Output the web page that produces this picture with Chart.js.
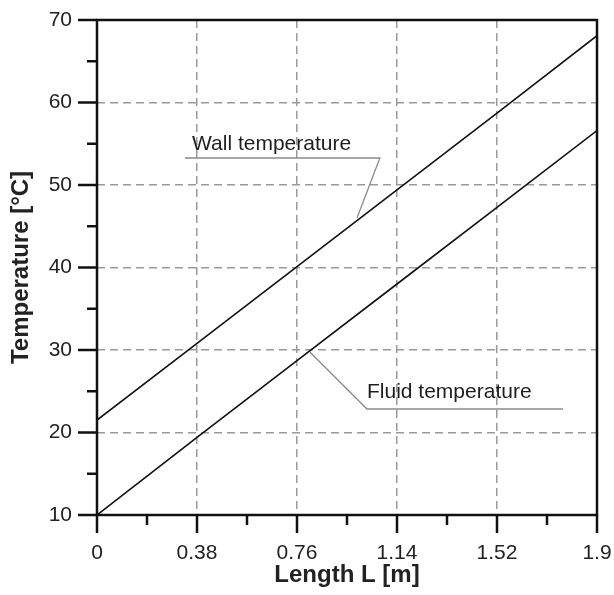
<!DOCTYPE html>
<html><head><meta charset="utf-8">
<script src="https://cdn.jsdelivr.net/npm/chart.js@4.4.1/dist/chart.umd.min.js"></script>
<style>html,body{margin:0;padding:0;background:#fff}#wrap{width:614px;height:595px}</style>
</head><body><div id="wrap"><canvas id="c" width="614" height="595"></canvas></div>
<script>
const lengthL = [0, 0.38, 0.76, 1.14, 1.52, 1.9];
const wallTemp = [21.5, 30.8, 40.1, 49.4, 58.7, 68.1];
const fluidTemp = [10.0, 19.4, 28.7, 38.0, 47.3, 56.6];
const xTickValues = [0, 0.38, 0.76, 1.14, 1.52, 1.9];
const xTickLabels = ['0', '0.38', '0.76', '1.14', '1.52', '1.9'];
const yTickValues = [10, 20, 30, 40, 50, 60, 70];
const yTickLabels = ['10', '20', '30', '40', '50', '60', '70'];
const seriesNames = ['Wall temperature', 'Fluid temperature'];

const FONT = '"Liberation Sans", Arial, sans-serif';

const annotations = [
  { text: seriesNames[0], textAt: [0.361, 54.2], path: [[0.334, 53.27], [1.075, 53.27], [0.988, 46.0]] },
  { text: seriesNames[1], textAt: [1.026, 24.2], path: [[0.809, 29.76], [1.026, 22.85], [1.771, 22.85]] }
];

const framePlugin = {
  id: 'frame',
  afterDatasetsDraw(chart) {
    const { ctx, chartArea: a, scales: { x, y } } = chart;
    ctx.save();
    annotations.forEach(an => {
      ctx.strokeStyle = '#8a8a8a';
      ctx.lineWidth = 1.3;
      ctx.beginPath();
      an.path.forEach((p, i) => {
        const px = x.getPixelForValue(p[0]), py = y.getPixelForValue(p[1]);
        if (i === 0) ctx.moveTo(px, py); else ctx.lineTo(px, py);
      });
      ctx.stroke();
      ctx.fillStyle = '#1e1e1e';
      ctx.font = '21px ' + FONT;
      ctx.textAlign = 'left';
      ctx.textBaseline = 'alphabetic';
      ctx.fillText(an.text, x.getPixelForValue(an.textAt[0]), y.getPixelForValue(an.textAt[1]));
    });
    ctx.strokeStyle = '#111';
    ctx.lineWidth = 2.5;
    ctx.beginPath();
    yTickValues.forEach((v, i) => {
      const py = y.getPixelForValue(v);
      ctx.moveTo(a.left - 19, py); ctx.lineTo(a.left, py);
      if (i < yTickValues.length - 1) {
        const pm = y.getPixelForValue((v + yTickValues[i + 1]) / 2);
        ctx.moveTo(a.left - 10, pm); ctx.lineTo(a.left, pm);
      }
    });
    xTickValues.forEach((v, i) => {
      const px = x.getPixelForValue(v);
      ctx.moveTo(px, a.bottom); ctx.lineTo(px, a.bottom + 18);
      if (i < xTickValues.length - 1) {
        const pm = x.getPixelForValue((v + xTickValues[i + 1]) / 2);
        ctx.moveTo(pm, a.bottom); ctx.lineTo(pm, a.bottom + 10);
      }
    });
    ctx.stroke();
    ctx.strokeRect(a.left, a.top, a.right - a.left, a.bottom - a.top);
    ctx.restore();
  }
};

new Chart(document.getElementById('c'), {
  type: 'line',
  data: {
    datasets: [
      { label: seriesNames[0], data: lengthL.map((v, i) => ({ x: v, y: wallTemp[i] })),
        borderColor: '#111', borderWidth: 1.6, pointRadius: 0, fill: false, tension: 0 },
      { label: seriesNames[1], data: lengthL.map((v, i) => ({ x: v, y: fluidTemp[i] })),
        borderColor: '#111', borderWidth: 1.6, pointRadius: 0, fill: false, tension: 0 }
    ]
  },
  options: {
    responsive: false,
    animation: false,
    layout: { padding: { top: 20, right: 17, left: 0, bottom: 0 } },
    plugins: { legend: { display: false }, tooltip: { enabled: false } },
    scales: {
      x: {
        type: 'linear', min: 0, max: 1.9,
        afterFit(s) { s.height = 80; },
        afterBuildTicks(s) { s.ticks = xTickValues.map(v => ({ value: v })); },
        ticks: { callback: (v, i) => xTickLabels[i], font: { family: FONT, size: 21 }, color: '#222', padding: 0, maxRotation: 0, autoSkip: false },
        grid: { color: '#9a9a9a', lineWidth: 1.5, drawTicks: true, tickLength: 26, tickColor: 'rgba(0,0,0,0)' },
        border: { display: false, dash: [8, 5] },
        title: { display: true, text: 'Length L [m]', font: { family: FONT, size: 24, weight: 'bold' }, color: '#222', padding: { top: 0, bottom: 5 } }
      },
      y: {
        type: 'linear', min: 10, max: 70,
        afterFit(s) { s.width = 97; },
        afterBuildTicks(s) { s.ticks = yTickValues.map(v => ({ value: v })); },
        ticks: { callback: (v, i) => yTickLabels[i], font: { family: FONT, size: 21 }, color: '#222', padding: 0, autoSkip: false },
        grid: { color: '#9a9a9a', lineWidth: 1.5, drawTicks: true, tickLength: 25, tickColor: 'rgba(0,0,0,0)' },
        border: { display: false, dash: [8, 5] },
        title: { display: true, text: 'Temperature [°C]', font: { family: FONT, size: 24, weight: 'bold' }, color: '#222', padding: { top: 7, bottom: 0 } }
      }
    }
  },
  plugins: [framePlugin]
});
</script>
</body></html>
